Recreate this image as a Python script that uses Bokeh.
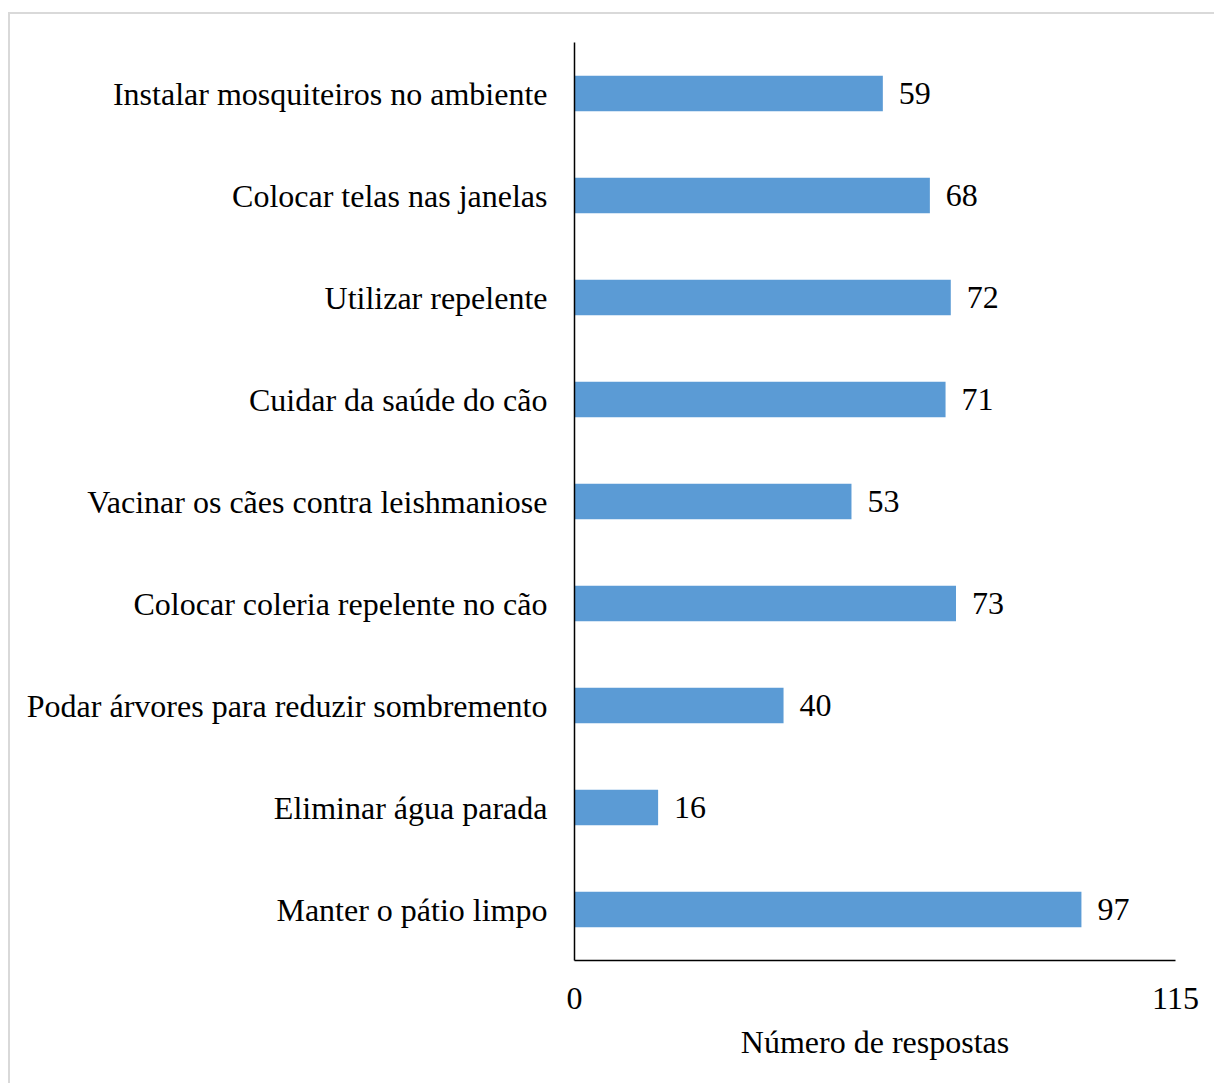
from bokeh.plotting import figure
from bokeh.models import FactorRange, Range1d, FixedTicker, ColumnDataSource, LabelSet
from bokeh.embed import file_html
from bokeh.resources import INLINE

categories = [
    "Instalar mosquiteiros no ambiente",
    "Colocar telas nas janelas",
    "Utilizar repelente",
    "Cuidar da saúde do cão",
    "Vacinar os cães contra leishmaniose",
    "Colocar coleria repelente no cão",
    "Podar árvores para reduzir sombremento",
    "Eliminar água parada",
    "Manter o pátio limpo",
]
values = [59, 68, 72, 71, 53, 73, 40, 16, 97]
x_ticks = [0, 115]
x_label = "Número de respostas"

FONT = "Times New Roman, Liberation Serif, serif"
FS = "32px"

src = ColumnDataSource(dict(cat=categories, val=values, txt=[str(v) for v in values]))

p = figure(
    width=1206, height=1071,
    y_range=FactorRange(factors=list(reversed(categories))),
    x_range=Range1d(0, 115),
    output_backend="svg", toolbar_location=None,
    min_border_left=564, min_border_top=28, min_border_right=41, min_border_bottom=125,
)
p.styles = {"border-left": "2px solid #d9d9d9", "border-top": "2px solid #d9d9d9",
            "margin-left": "8px", "margin-top": "12px"}
p.outline_line_color = None
p.grid.visible = False

p.hbar(y="cat", right="val", left=0, height=0.35, source=src,
       fill_color="#5B9BD5", line_color=None)

labels = LabelSet(x="val", y="cat", text="txt", source=src, x_offset=16,
                  text_baseline="middle", text_font=FONT, text_font_size=FS,
                  text_color="black")
p.add_layout(labels)

xa = p.xaxis[0]
xa.ticker = FixedTicker(ticks=x_ticks)
xa.axis_label = x_label
xa.axis_label_text_font = FONT
xa.axis_label_text_font_size = FS
xa.axis_label_text_font_style = "normal"
xa.axis_label_text_color = "black"
xa.axis_label_standoff = 12
xa.major_label_text_font = FONT
xa.major_label_text_font_size = FS
xa.major_label_text_color = "black"
xa.major_label_standoff = 21
xa.major_tick_line_color = None
xa.minor_tick_line_color = None
xa.axis_line_color = "black"
xa.axis_line_width = 1.5

ya = p.yaxis[0]
ya.major_label_text_font = FONT
ya.major_label_text_font_size = FS
ya.major_label_text_color = "black"
ya.major_label_standoff = 21
ya.major_tick_line_color = None
ya.minor_tick_line_color = None
ya.axis_line_color = "black"
ya.axis_line_width = 1.5

open("out.html", "w").write(file_html(p, INLINE))
